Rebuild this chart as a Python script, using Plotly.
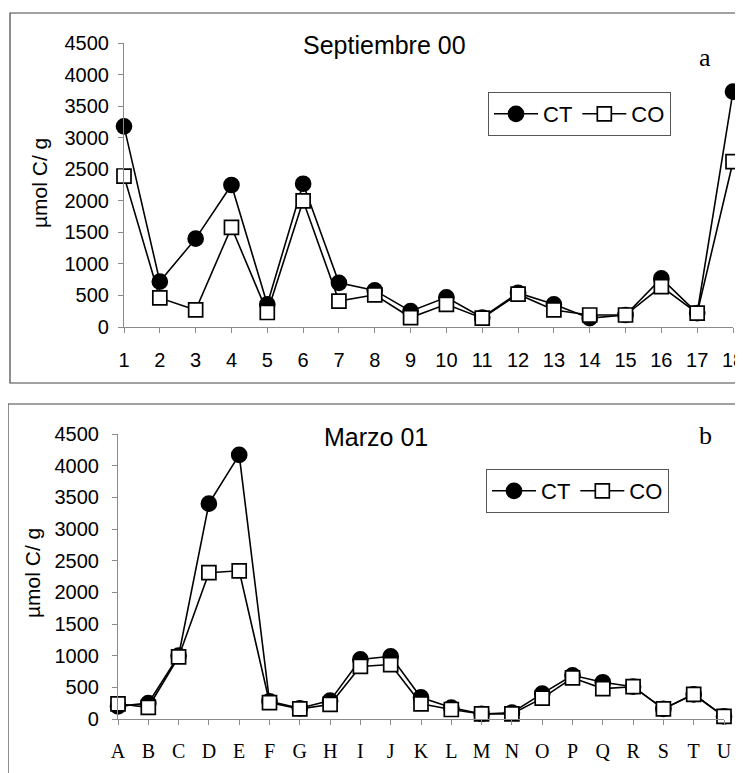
import plotly.graph_objects as go

W, H = 743, 773
OFF = 8  # page body margin offsets the figure by this many pixels

# ---------------- data ----------------
sites_a = [str(i) for i in range(1, 19)]
ct_a = [3180, 720, 1400, 2250, 360, 2270, 700, 580, 250, 470, 150, 540, 360, 140, 190, 770, 220, 3730]
co_a = [2390, 460, 270, 1580, 230, 2000, 410, 510, 150, 360, 140, 520, 270, 190, 190, 640, 220, 2620]

sites_b = list("ABCDEFGHIJKLMNOPQRSTU")
ct_b = [200, 250, 1000, 3400, 4170, 280, 170, 290, 940, 990, 340, 180, 80, 100, 400, 690, 580, 510, 160, 390, 40]
co_b = [240, 185, 980, 2310, 2340, 260, 160, 230, 830, 860, 240, 150, 80, 80, 330, 650, 480, 510, 160, 390, 40]

y_ticks = [0, 500, 1000, 1500, 2000, 2500, 3000, 3500, 4000, 4500]
title_a = "Septiembre 00"
title_b = "Marzo 01"
ytitle = "µmol C/ g"

# ---------------- helpers ----------------
def px_x(x):
    return (x - OFF) / W

def px_y(y):
    return 1 - (y - OFF) / H

SANS = "Liberation Sans, Arial, sans-serif"
SERIF = "Liberation Serif, Times New Roman, serif"

fig = go.Figure()

def add_series(xs, ys, name, symbol, fill, xa, ya, legend):
    fig.add_trace(go.Scatter(
        x=xs, y=ys, name=name, mode="lines+markers",
        xaxis=xa, yaxis=ya, legend=legend,
        line=dict(color="black", width=1.6),
        marker=dict(symbol=symbol, size=15 if symbol == "circle" else 14,
                    color=fill, line=dict(color="black", width=1.7)),
        cliponaxis=False,
    ))

add_series(sites_a, ct_a, "CT", "circle", "black", "x", "y", "legend")
add_series(sites_a, co_a, "CO", "square", "white", "x", "y", "legend")
add_series(sites_b, ct_b, "CT", "circle", "black", "x2", "y2", "legend2")
add_series(sites_b, co_b, "CO", "square", "white", "x2", "y2", "legend2")

axis_common = dict(showgrid=False, zeroline=False, showline=True,
                   linecolor="#8a8a8a", linewidth=1.2, ticks="outside",
                   tickcolor="#8a8a8a", ticklen=5, tickwidth=1,
                   automargin=False)

legend_common = dict(xanchor="left", yanchor="top", orientation="h",
                     bordercolor="#555", borderwidth=1, bgcolor="white",
                     font=dict(family=SANS, size=22, color="black"),
                     itemwidth=44, tracegroupgap=0)

fig.update_layout(
    width=W, height=H,
    margin=dict(l=0, r=0, t=0, b=0, pad=0, autoexpand=False),
    paper_bgcolor="white", plot_bgcolor="white",
    showlegend=True,
    xaxis=dict(domain=[px_x(124), px_x(733)], anchor="y", type="category",
               range=[0, len(sites_a) - 1],
               tickfont=dict(family=SANS, size=20, color="black"),
               ticklabelstandoff=10, **axis_common),
    yaxis=dict(domain=[px_y(327), px_y(43)], anchor="x", range=[0, 4500],
               tickvals=y_ticks,
               tickfont=dict(family=SANS, size=20, color="black"),
               ticklabelstandoff=5, **axis_common),
    xaxis2=dict(domain=[px_x(118), px_x(724)], anchor="y2", type="category",
                range=[0, len(sites_b) - 1],
                tickfont=dict(family=SERIF, size=20, color="black"),
                ticklabelstandoff=9, **axis_common),
    yaxis2=dict(domain=[px_y(719), px_y(434)], anchor="x2", range=[0, 4500],
                tickvals=y_ticks,
                tickfont=dict(family=SANS, size=20, color="black"),
                ticklabelstandoff=9, **axis_common),
    legend=dict(x=px_x(488), y=px_y(92), **legend_common),
    legend2=dict(x=px_x(486), y=px_y(469), **legend_common),
)

# panel frames
fig.add_shape(type="rect", xref="paper", yref="paper",
              x0=px_x(10), x1=px_x(760), y0=px_y(383), y1=px_y(13),
              line=dict(color="#444", width=1.2))
fig.add_shape(type="rect", xref="paper", yref="paper",
              x0=px_x(8), x1=px_x(739), y0=px_y(800), y1=px_y(404),
              line=dict(color="#444", width=1.2))

# titles and labels
ann = [
    dict(text=title_a, x=px_x(384), y=px_y(45), font=dict(family=SANS, size=25)),
    dict(text=title_b, x=px_x(376), y=px_y(437), font=dict(family=SANS, size=25)),
    dict(text="a", x=px_x(705), y=px_y(58), font=dict(family=SERIF, size=26)),
    dict(text="b", x=px_x(705), y=px_y(435), font=dict(family=SERIF, size=26)),
    dict(text=ytitle, x=px_x(39), y=px_y(183), textangle=-90,
         font=dict(family=SANS, size=21)),
    dict(text=ytitle, x=px_x(32), y=px_y(573), textangle=-90,
         font=dict(family=SANS, size=21)),
]
for a in ann:
    a.update(xref="paper", yref="paper", showarrow=False,
             xanchor="center", yanchor="middle")
    a["font"]["color"] = "black"
    fig.add_annotation(**a)

fig.write_html("out.html")
